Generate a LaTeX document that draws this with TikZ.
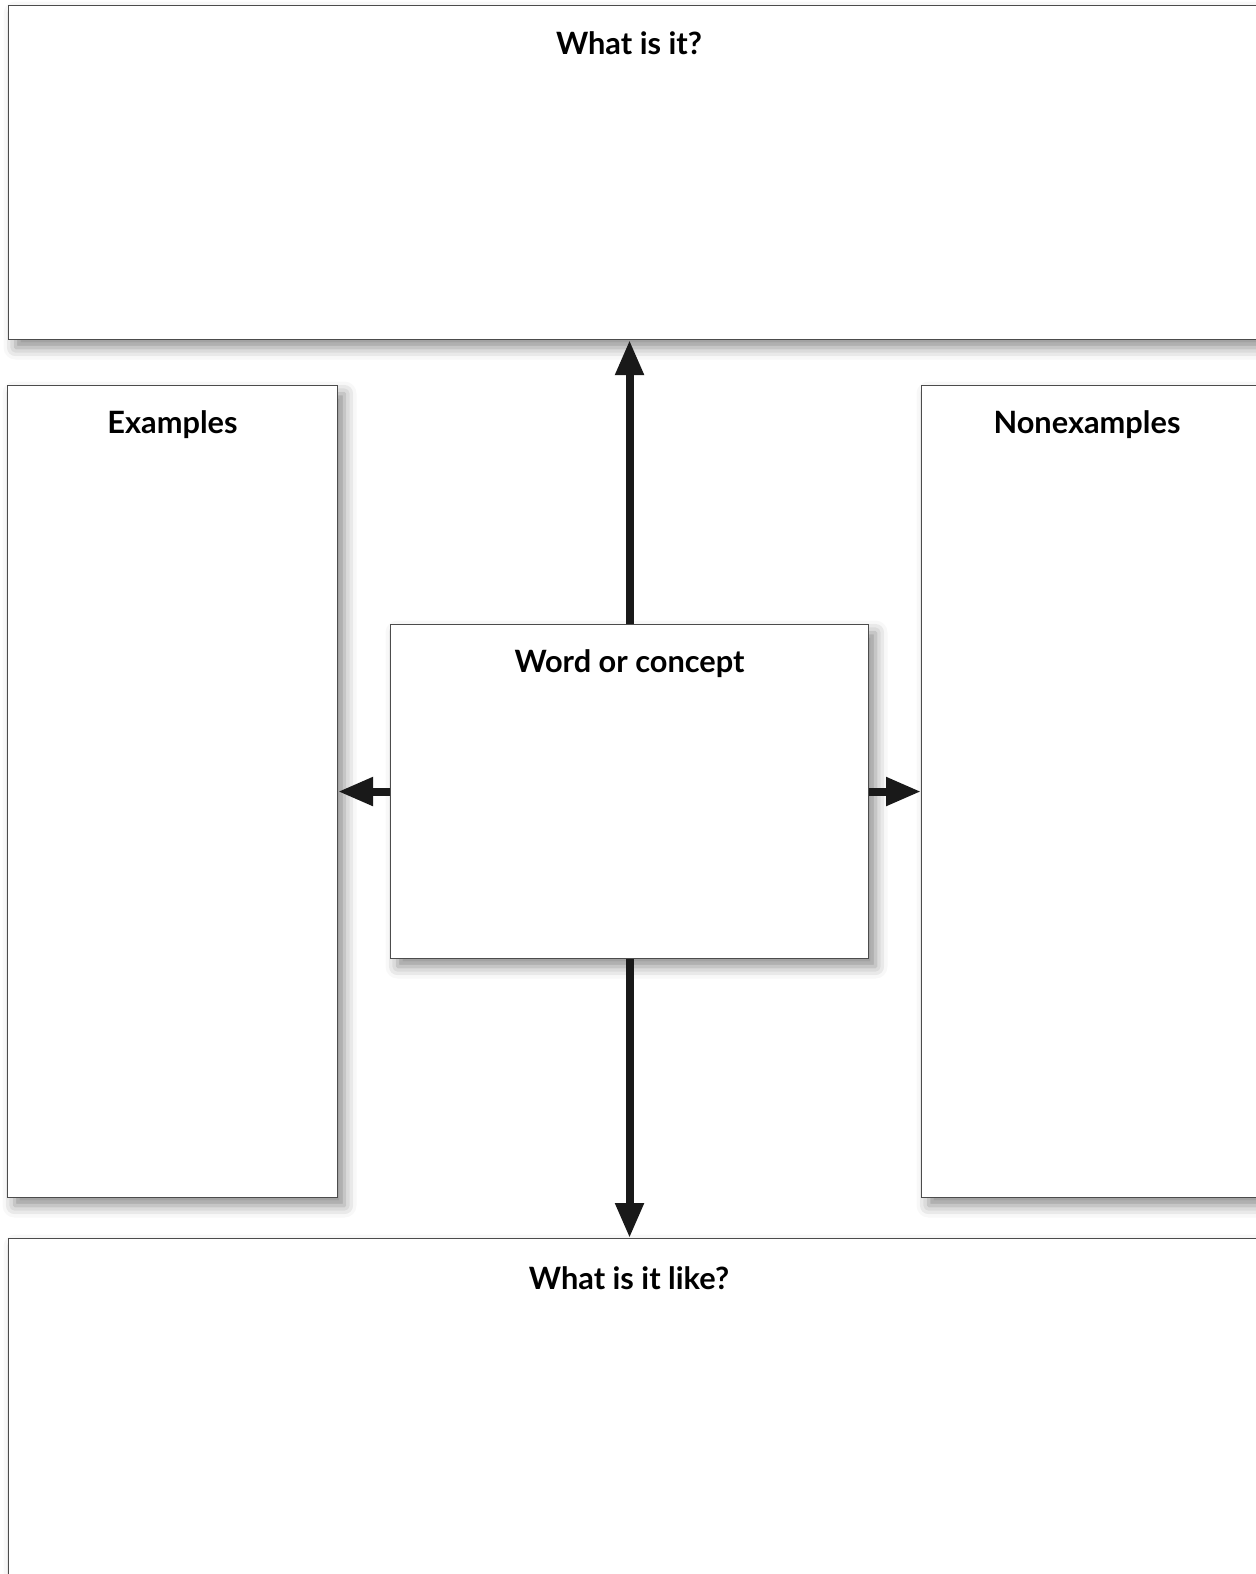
\documentclass[tikz,border=0pt]{standalone}
\usepackage{fontspec}
\setmainfont{Lato}
\usepackage{tikz}
\usetikzlibrary{calc, positioning, arrows.meta, shadows.blur}

\tikzset{
    box/.style={draw=black!70, line width=0.6pt, fill=white, rectangle,
        blur shadow={shadow xshift=0.14cm, shadow yshift=-0.16cm,
            shadow blur radius=0.24cm, shadow opacity=45}},
    lbl/.style={font=\bfseries\fontsize{17.5}{20}\selectfont, inner sep=0pt},
    bigarrow/.style={-{Triangle[length=0.7cm, width=0.54cm]}, line width=0.16cm, black!90}
}

\begin{document}
\begin{tikzpicture}[>=latex]
    % Cadre de la page
    \useasboundingbox (0,0) rectangle (25.1,-31.48);

    % Les cases
    \node[box, anchor=north west, minimum width=26cm, minimum height=6.68cm] (whatis) at (0.16,-0.10) {};
    \node[box, anchor=north west, minimum width=6.60cm, minimum height=16.24cm] (examples) at (0.14,-7.70) {};
    \node[box, anchor=north west, minimum width=8cm, minimum height=16.24cm] (nonexamples) at (18.42,-7.70) {};
    \node[box, anchor=north west, minimum width=9.56cm, minimum height=6.68cm] (word) at (7.80,-12.48) {};
    \node[box, anchor=north west, minimum width=26cm, minimum height=7.5cm] (whatlike) at (0.16,-24.76) {};

    % Titres
    \node[lbl] (whatislbl) at ($(whatis.north west)+(12.42,-0.76)$) {What is it?};
    \node[lbl] (exampleslbl) at ($(examples.north)+(0,-0.80)$) {Examples};
    \node[lbl] (nonexampleslbl) at ($(nonexamples.north west)+(3.32,-0.80)$) {Nonexamples};
    \node[lbl] (wordlbl) at ($(word.north)+(0,-0.80)$) {Word or concept};
    \node[lbl] (whatlikelbl) at ($(whatlike.north west)+(12.42,-0.80)$) {What is it like?};

    % Flèches
    \draw[bigarrow] (word.north) -- (word.north |- whatis.south);
    \draw[bigarrow] (word.south) -- (word.south |- whatlike.north);
    \draw[bigarrow] (word.west) -- (word.west -| examples.east);
    \draw[bigarrow] (word.east) -- (word.east -| nonexamples.west);
\end{tikzpicture}
\end{document}
